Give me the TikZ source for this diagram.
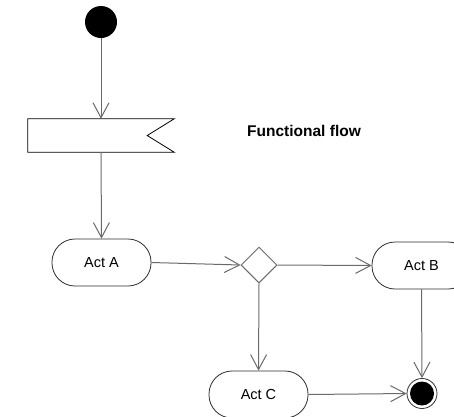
\documentclass[tikz,border=0pt]{standalone}
\usepackage{fontspec}
\setmainfont{Liberation Sans}
\usetikzlibrary{arrows.meta,shapes.geometric}
\definecolor{flowgray}{HTML}{6A6A6A}
\definecolor{edgedark}{HTML}{303030}
\tikzset{
  flowline/.style={draw=flowgray, line width=1pt, -{Straight Barb[length=15pt,width=16pt,line width=1pt]}},
  actbox/.style={draw=edgedark, line width=0.8pt, rectangle, rounded corners=23pt,
    minimum width=99pt, minimum height=47pt, inner sep=0pt, font=\fontsize{14.5}{16}\selectfont},
  choice/.style={draw=flowgray, line width=1pt, diamond, minimum size=36pt, inner sep=0pt},
}
\begin{document}
\begin{tikzpicture}[x=1pt,y=-1pt]
  \useasboundingbox (0,0) rectangle (454,416);
  \clip (0,0) rectangle (454,416);
  \fill[white] (0,0) rectangle (454,416);

  % initial node
  \node[circle, fill=black, minimum size=32pt, inner sep=0pt] (start) at (101,22) {};

  % flag-shaped step with a notch on its right side
  \node[minimum width=146pt, minimum height=33pt, inner sep=0pt] (flag) at (101,135.5) {};
  \draw[black, line width=0.8pt]
    (flag.north west) -- (flag.north east) -- ([xshift=-27pt]flag.east)
    -- (flag.south east) -- (flag.south west) -- cycle;

  \node[font=\bfseries\fontsize{15.5}{18}\selectfont] (title) at (304,131) {Functional flow};

  % actions
  \node[actbox] (actA) at (101.5,262.5) {Act A};
  \node[choice] (dec) at (259,265) {};
  \node[actbox] (actB) at (421.5,265.5) {Act B};
  \node[actbox] (actC) at (258.5,394.5) {Act C};

  % final node
  \node[circle, draw=edgedark, line width=0.8pt, minimum size=30pt, inner sep=0pt] (final) at (422,393.5) {};
  \fill[black] (final.center) circle (12pt);

  % connectors
  \draw[flowline] (start) -- (flag.north);
  \draw[flowline] (flag.south) -- (actA.north);
  \draw[flowline] (actA.east) -- (dec.west);
  \draw[flowline] (dec.east) -- (actB.west);
  \draw[flowline] (dec.south) -- (actC.north);
  \draw[flowline] (actB.south) -- (final.north);
  \draw[flowline] (actC.east) -- (final.west);
\end{tikzpicture}
\end{document}
